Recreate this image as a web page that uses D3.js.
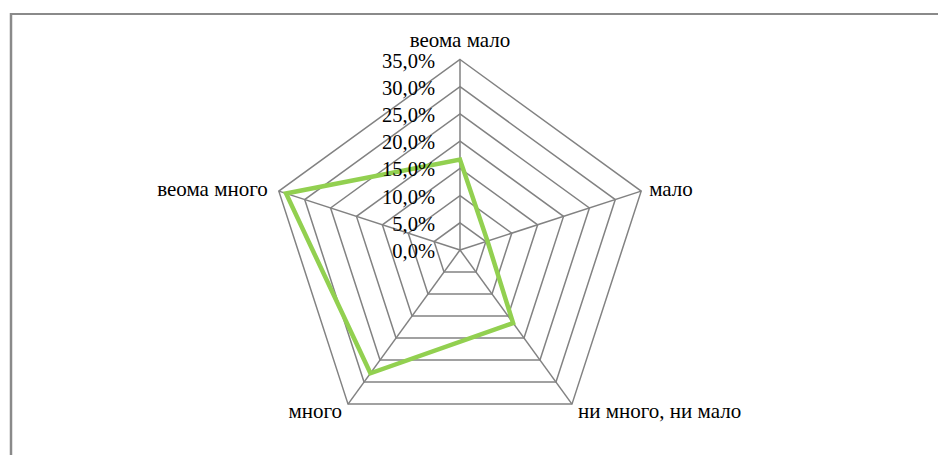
<!DOCTYPE html>
<html>
<head>
<meta charset="utf-8">
<script src="https://cdn.jsdelivr.net/npm/d3@7"></script>
<style>
  html, body { margin: 0; padding: 0; background: #fff; }
  svg { display: block; }
</style>
</head>
<body>
<svg id="chart" width="938" height="455"></svg>
<script>
const categories = ["веома мало", "мало", "ни много, ни мало", "много", "веома много"];
const values = [0.166, 0.053, 0.166, 0.280, 0.336];
const tickValues = [0, 0.05, 0.10, 0.15, 0.20, 0.25, 0.30, 0.35];
const tickLabels = ["0,0%", "5,0%", "10,0%", "15,0%", "20,0%", "25,0%", "30,0%", "35,0%"];

const W = 938, H = 455;
const cx = 460, cy = 250, R = 190.5;
const FONT = "'Liberation Serif', 'Times New Roman', serif";
const svg = d3.select("#chart");

// frame
svg.append("line").attr("x1", 10).attr("y1", 14).attr("x2", W).attr("y2", 14)
  .attr("stroke", "#8a8a8a").attr("stroke-width", 2);
svg.append("line").attr("x1", 11).attr("y1", 13).attr("x2", 11).attr("y2", H)
  .attr("stroke", "#8a8a8a").attr("stroke-width", 2.5);

const r = d3.scaleLinear().domain([0, 0.35]).range([0, R]);
const angle = d3.scaleLinear().domain([0, categories.length]).range([0, 2 * Math.PI]);
const pt = (i, v) => [cx + r(v) * Math.sin(angle(i)), cy - r(v) * Math.cos(angle(i))];

const g = svg.append("g");
tickValues.slice(1).forEach(t => {
  const pts = categories.map((c, i) => pt(i, t));
  g.append("path").attr("d", d3.line()(pts) + "Z")
    .attr("fill", "none").attr("stroke", "#828282").attr("stroke-width", 1.5);
});
categories.forEach((c, i) => {
  const [x, y] = pt(i, 0.35);
  g.append("line").attr("x1", cx).attr("y1", cy).attr("x2", x).attr("y2", y)
    .attr("stroke", "#828282").attr("stroke-width", 1.5);
});

const seriesPts = values.map((v, i) => pt(i, v));
g.append("path").attr("d", d3.line()(seriesPts) + "Z")
  .attr("fill", "none").attr("stroke", "#92D050").attr("stroke-width", 4.5)
  .attr("stroke-linejoin", "miter");

tickValues.forEach((t, k) => {
  svg.append("text").attr("x", cx - 25).attr("y", cy - r(t) + 8)
    .attr("text-anchor", "end").attr("font-size", 20.5)
    .attr("font-family", FONT).attr("fill", "#000").text(tickLabels[k]);
});

const lab = [
  {dx: 0, dy: -13, anchor: "middle"},
  {dx: 8, dy: 5, anchor: "start"},
  {dx: 6, dy: 13.5, anchor: "start"},
  {dx: -6, dy: 13.5, anchor: "end"},
  {dx: -11, dy: 5, anchor: "end"}
];
categories.forEach((c, i) => {
  const [x, y] = pt(i, 0.35);
  svg.append("text").attr("x", x + lab[i].dx).attr("y", y + lab[i].dy)
    .attr("text-anchor", lab[i].anchor).attr("font-size", 21)
    .attr("font-family", FONT).attr("fill", "#000").text(c);
});
</script>
</body>
</html>
